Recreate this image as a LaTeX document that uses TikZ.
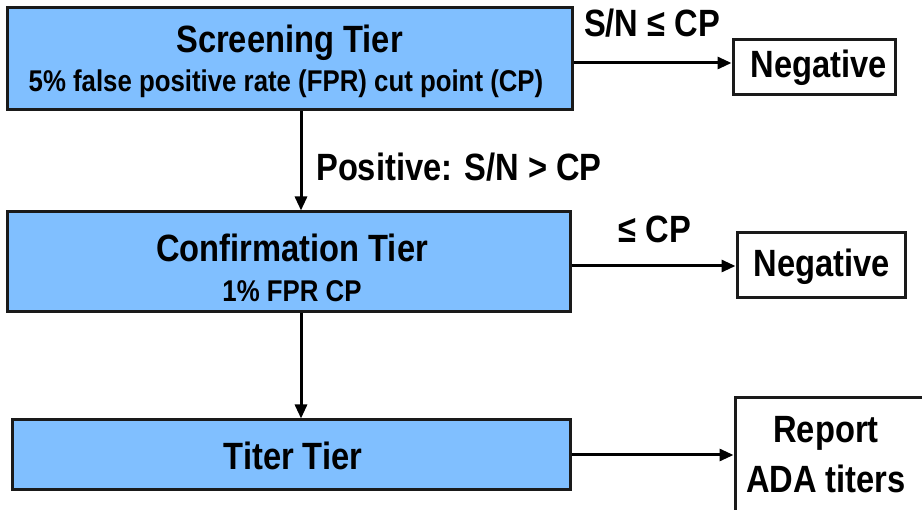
\documentclass[tikz,border=0pt]{standalone}
\usepackage{fontspec}
\setmainfont{Liberation Sans}[FakeStretch=0.86]
\usetikzlibrary{arrows.meta}
\definecolor{tierblue}{HTML}{80BFFF}
\definecolor{edge}{HTML}{1A1A1A}
\tikzset{
  tierbox/.style={draw=edge, line width=3pt, fill=tierblue, rectangle, inner sep=0pt},
  outbox/.style={draw=edge, line width=3pt, fill=white, rectangle, inner sep=0pt},
  big/.style={font=\bfseries\fontsize{38}{42}\selectfont, inner sep=0pt},
  small/.style={font=\bfseries\fontsize{30}{34}\selectfont, inner sep=0pt},
  arr/.style={line width=3pt, -{Triangle[length=14pt,width=12pt]}, draw=black},
}
\begin{document}
\begin{tikzpicture}[x=1pt,y=-1pt]
\clip (0,0) rectangle (922,510);
\fill[white] (0,0) rectangle (922,510);
% boxes
\node[tierbox, minimum width=565pt, minimum height=102pt] (scr) at (289.5,59) {};
\node[tierbox, minimum width=563pt, minimum height=100pt] (conf) at (288.5,262) {};
\node[tierbox, minimum width=558pt, minimum height=70pt] (titer) at (291,455) {};
\node[outbox, minimum width=162pt, minimum height=55pt] (neg1) at (814,67.5) {};
\node[outbox, minimum width=168pt, minimum height=65pt] (neg2) at (821,265.5) {};
\node[outbox, minimum width=195pt, minimum height=118pt] (rep) at (832.5,457) {};
% texts
\node[big] (t1) at (289.5,43) {Screening Tier};
\node[small] (s1) at (286,84) {5\% false positive rate (FPR) cut point (CP)};
\node[big] (t2) at (292,248) {Confirmation Tier};
\node[small] (s2) at (292,291) {1\% FPR CP};
\node[big] (t3) at (293,456) {Titer Tier};
\node[big] (n1) at (819,68) {Negative};
\node[big] (n2) at (822,267) {Negative};
\node[big] (r1) at (826,433) {Report};
\node[big] (r2) at (826,479) {ADA titers};
\node[big] (l1) at (652,23) {S/N ≤ CP};
\node[big] (l2) at (655,229) {≤ CP};
\node[big, anchor=west] (l3) at (316,167) {Positive: S/N > CP};
% connectors
\draw[arr] (scr.east |- 0,63) -- (neg1.west |- 0,63);
\draw[arr] (conf.east |- 0,266) -- (neg2.west |- 0,266);
\draw[arr] (titer.east |- 0,455) -- (rep.west |- 0,455);
\draw[arr] (scr.south -| 301,0) -- (conf.north -| 301,0);
\draw[arr] (conf.south -| 301,0) -- (titer.north -| 301,0);
\end{tikzpicture}
\end{document}
